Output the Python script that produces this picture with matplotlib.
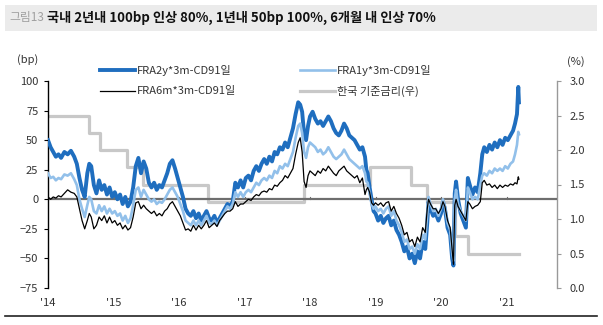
import matplotlib
matplotlib.use("Agg")
import matplotlib.pyplot as plt
from matplotlib.lines import Line2D
from matplotlib.patches import Rectangle

plt.rcParams['font.family'] = ['Noto Sans CJK KR', 'DejaVu Sans']

# ---- data (decimal years, bp) ----
dates = [2014.00, 2014.04, 2014.08, 2014.12, 2014.16, 2014.20, 2014.25, 2014.30, 2014.35, 2014.40,
         2014.44, 2014.48, 2014.52, 2014.56, 2014.60, 2014.63, 2014.66, 2014.70, 2014.74, 2014.78,
         2014.82, 2014.86, 2014.90, 2014.94, 2014.98, 2015.02, 2015.06, 2015.10, 2015.14, 2015.18,
         2015.22, 2015.26, 2015.30, 2015.34, 2015.38, 2015.42, 2015.46, 2015.50, 2015.54, 2015.58,
         2015.62, 2015.66, 2015.70, 2015.74, 2015.78, 2015.82, 2015.86, 2015.90, 2015.94, 2015.98,
         2016.02, 2016.06, 2016.10, 2016.14, 2016.18, 2016.22, 2016.26, 2016.30, 2016.34, 2016.38,
         2016.42, 2016.46, 2016.50, 2016.54, 2016.58, 2016.62, 2016.66, 2016.70, 2016.74, 2016.78,
         2016.82, 2016.86, 2016.90, 2016.94, 2016.98, 2017.02, 2017.06, 2017.10, 2017.14, 2017.18,
         2017.22, 2017.26, 2017.30, 2017.34, 2017.38, 2017.42, 2017.46, 2017.50, 2017.54, 2017.58,
         2017.62, 2017.66, 2017.70, 2017.74, 2017.78, 2017.82, 2017.85, 2017.88, 2017.91, 2017.94,
         2017.97, 2018.00, 2018.04, 2018.08, 2018.12, 2018.16, 2018.20, 2018.24, 2018.28, 2018.32,
         2018.36, 2018.40, 2018.44, 2018.48, 2018.52, 2018.56, 2018.60, 2018.64, 2018.68, 2018.72,
         2018.76, 2018.80, 2018.84, 2018.86, 2018.88, 2018.91, 2018.94, 2018.97, 2019.00, 2019.04,
         2019.08, 2019.12, 2019.16, 2019.20, 2019.24, 2019.28, 2019.32, 2019.36, 2019.40, 2019.44,
         2019.48, 2019.52, 2019.56, 2019.60, 2019.64, 2019.68, 2019.72, 2019.76, 2019.79, 2019.81,
         2019.84, 2019.88, 2019.92, 2019.96, 2020.00, 2020.03, 2020.06, 2020.10, 2020.14, 2020.17,
         2020.19, 2020.21, 2020.23, 2020.26, 2020.30, 2020.34, 2020.38, 2020.41, 2020.44, 2020.48,
         2020.52, 2020.56, 2020.60, 2020.63, 2020.66, 2020.70, 2020.74, 2020.78, 2020.82, 2020.86,
         2020.90, 2020.94, 2020.98, 2021.02, 2021.06, 2021.10, 2021.13, 2021.16, 2021.18, 2021.19]

fra2y = [50, 44, 40, 36, 38, 35, 40, 38, 41, 36,
         30, 18, 8, 2, 22, 30, 28, 12, 5, 16,
         8, 12, 4, 10, 2, 6, 0, 4, -4, 2,
         -6, -2, 10, 28, 35, 22, 32, 26, 14, 10,
         14, 8, 12, 10, 16, 22, 30, 33, 26, 18,
         10, 2, -8, -12, -14, -10, -16, -12, -18, -14,
         -10, -16, -18, -14, -20, -16, -12, -8, -4, -6,
         -2, 14, 10, 16, 10, 18, 20, 16, 24, 28,
         24, 30, 34, 30, 36, 32, 40, 38, 44, 42,
         48, 44, 52, 60, 72, 82, 80, 74, 55, 50,
         62, 70, 74, 68, 64, 66, 62, 66, 70, 66,
         60, 56, 54, 58, 64, 60, 54, 52, 50, 46,
         42, 44, 36, 25, 22, 10, 0, -10, -12, -18,
         -14, -20, -16, -14, -22, -18, -26, -30, -36, -44,
         -40, -50, -46, -54, -44, -50, -36, -42, -20, -2,
         -8, -14, -12, -18, -12, -2, -8, -24, -30, -50,
         -56, 5, 15, 0, -12, -18, -24, 18, 12, 4,
         10, 6, 22, 38, 44, 40, 46, 42, 48, 44,
         50, 46, 52, 50, 54, 58, 64, 72, 95, 82]

fra1y = [22, 18, 19, 16, 18, 17, 21, 20, 22, 17,
         12, 0, -8, -15, -5, 2, 0, -10, -12, -5,
         -10, -6, -12, -8, -12, -10, -14, -12, -18, -14,
         -20, -16, -5, 8, 10, 2, 8, 4, 0, -2,
         0, -4, -2, -3, 0, 4, 8, 10, 6, 2,
         -4, -10, -18, -20, -22, -18, -22, -18, -22, -18,
         -14, -20, -21, -18, -22, -18, -14, -10, -6, -8,
         -4, 6, 2, 6, 2, 6, 8, 6, 10, 14,
         12, 16, 18, 16, 20, 18, 24, 22, 28, 26,
         30, 28, 34, 40, 52, 62, 64, 56, 40, 35,
         44, 48, 46, 44, 40, 42, 38, 40, 44, 40,
         36, 34, 36, 38, 42, 38, 34, 32, 30, 28,
         26, 28, 22, 15, 14, 5, -4, -8, -6, -10,
         -8, -12, -8, -6, -14, -10, -18, -22, -28, -36,
         -34, -42, -40, -46, -38, -42, -30, -34, -12, 2,
         -4, -10, -8, -14, -8, 0, -6, -20, -26, -45,
         -52, 0, 8, -4, -10, -14, -18, 10, 6, 0,
         2, 0, 12, 20, 22, 20, 24, 22, 26, 24,
         26, 24, 28, 26, 30, 32, 38, 46, 57, 55]

fra6m = [2, 0, 2, 1, 3, 2, 5, 8, 6, 5,
         2, -8, -18, -25, -18, -12, -15, -25, -22, -15,
         -18, -14, -20, -15, -20, -18, -22, -20, -25, -22,
         -26, -24, -15, -3, -2, -8, -5, -8, -10, -12,
         -10, -14, -12, -14, -10, -8, -4, -2, -6, -10,
         -14, -20, -26, -25, -27, -22, -26, -22, -25, -22,
         -18, -24, -22, -20, -23, -18, -15, -12, -10, -10,
         -8, -2, -6, -4, -4, -2, 0, -1, 2, 4,
         3, 6, 7, 6, 9, 8, 12, 11, 14, 16,
         20, 18, 22, 26, 38, 48, 52, 40, 15, 10,
         20, 24, 22, 20, 24, 22, 26, 24, 28, 25,
         22, 20, 24, 26, 28, 24, 22, 20, 18, 20,
         14, 18, 4, 8, 10, 6, -3, -5, -3, -5,
         -3, -6, -3, -2, -10, -6, -12, -16, -22, -30,
         -28, -36, -34, -40, -32, -36, -24, -28, -8, 0,
         -4, -8, -8, -12, -8, -2, -6, -18, -24, -42,
         -55, -5, 0, -6, -10, -14, -18, -2, -4, -8,
         -6, -5, -2, 14, 16, 12, 13, 10, 12, 9,
         12, 10, 12, 11, 13, 12, 14, 13, 19, 17]

rate_dates = [2014.00, 2014.62, 2014.79, 2015.20, 2015.45, 2016.44, 2017.91, 2018.91,
              2019.54, 2019.79, 2020.21, 2020.41, 2021.19]
rate_vals = [2.50, 2.25, 2.00, 1.75, 1.50, 1.25, 1.50, 1.75,
             1.50, 1.25, 0.75, 0.50, 0.50]

year_ticks = [2014, 2015, 2016, 2017, 2018, 2019, 2020, 2021]
year_labels = ["'14", "'15", "'16", "'17", "'18", "'19", "'20", "'21"]
left_ticks = [-75, -50, -25, 0, 25, 50, 75, 100]
right_ticks = [0.0, 0.5, 1.0, 1.5, 2.0, 2.5, 3.0]

legend_names = ['FRA2y*3m-CD91일', 'FRA1y*3m-CD91일', 'FRA6m*3m-CD91일', '한국 기준금리(우)']

C_2Y = '#1f6ebf'
C_1Y = '#92c0ea'
C_6M = '#000000'
C_RATE = '#c8c8c8'

W, H = 603, 325
fig = plt.figure(figsize=(W / 100, H / 100), dpi=100)

# title bar
fig.patches.append(Rectangle((5 / W, 1 - 31 / H), 592 / W, 26 / H, transform=fig.transFigure,
                             facecolor='#ebebeb', edgecolor='none', zorder=0))
fig.text(9 / W, 1 - 18 / H, '그림13', fontsize=8.5, color='#a0a0a0', va='center', ha='left')
fig.text(47 / W, 1 - 18 / H, '국내 2년내 100bp 인상 80%, 1년내 50bp 100%, 6개월 내 인상 70%',
         fontsize=9.5, fontweight='bold', color='#111111', va='center', ha='left')
fig.add_artist(Line2D([5 / W, 597 / W], [1 - 316 / H, 1 - 316 / H], transform=fig.transFigure,
                      color='#222222', lw=1.2))

ax = fig.add_axes([48 / W, 1 - 288 / H, (557 - 48) / W, (288 - 81) / H])
ax2 = ax.twinx()

ax.set_xlim(2014.0, 2014 + (557 - 48) / 65.5)
ax.set_ylim(-75, 100)
ax2.set_ylim(0, 3.0)

ax.set_zorder(ax2.get_zorder() + 1)
ax.patch.set_visible(False)

ax2.step(rate_dates, rate_vals, where='post', color=C_RATE, lw=2.3, zorder=1)
ax.axhline(0, color='#6e6e6e', lw=1.6, zorder=2)
ax.plot(dates, fra2y, color=C_2Y, lw=2.8, zorder=3)
ax.plot(dates, fra1y, color=C_1Y, lw=1.9, zorder=4)
ax.plot(dates, fra6m, color=C_6M, lw=0.9, zorder=5)

# small ticks on zero line
for yt in year_ticks:
    ax.plot([yt, yt], [0, 1.8], color='#6e6e6e', lw=0.8, zorder=2)

ax.set_xticks(year_ticks)
ax.set_xticklabels(year_labels)
ax.set_yticks(left_ticks)
ax.tick_params(axis='x', length=0, labelsize=8, colors='#333333', pad=7)
ax.tick_params(axis='y', length=3, width=0.8, direction='out', labelsize=8, colors='#333333', pad=4)
ax.tick_params(axis='y', colors='#000000', labelcolor='#333333')
for s in ['top', 'right', 'bottom']:
    ax.spines[s].set_visible(False)
ax.spines['left'].set_linewidth(1.0)
ax.spines['left'].set_color('#000000')

ax2.set_yticks(right_ticks)
ax2.set_yticklabels([f'{v:.1f}' for v in right_ticks])
ax2.tick_params(axis='y', length=3, width=0.8, direction='out', labelsize=8,
                colors='#999999', labelcolor='#333333', pad=6)
for s in ['top', 'left', 'bottom']:
    ax2.spines[s].set_visible(False)
ax2.spines['right'].set_color('#999999')
ax2.spines['right'].set_linewidth(1.0)

fig.text(17 / W, 1 - 60 / H, '(bp)', fontsize=8, color='#333333', va='center', ha='left')
fig.text(567 / W, 1 - 62 / H, '(%)', fontsize=8, color='#333333', va='center', ha='left')

# legend
leg_items = [
    (100, 70, C_2Y, 2.8, legend_names[0]),
    (300, 70, C_1Y, 1.9, legend_names[1]),
    (100, 91, C_6M, 0.9, legend_names[2]),
    (300, 91, C_RATE, 2.3, legend_names[3]),
]
for x0, y0, c, lw, name in leg_items:
    fig.add_artist(Line2D([x0 / W, (x0 + 35) / W], [1 - y0 / H, 1 - y0 / H],
                          transform=fig.transFigure, color=c, lw=lw))
    fig.text((x0 + 37) / W, 1 - y0 / H, name, fontsize=8, color='#333333', va='center', ha='left')

fig.savefig('out.png', dpi=100)
